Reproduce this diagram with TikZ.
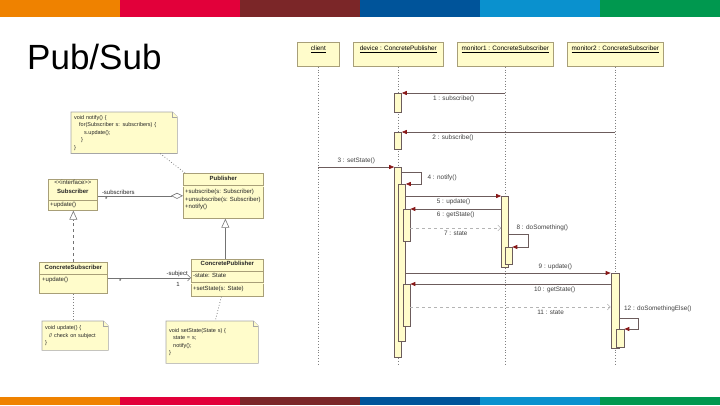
\documentclass[tikz,border=0pt]{standalone}
\usepackage{fontspec}
\setmainfont{Liberation Sans}
\usepackage{tikz}
\definecolor{BarOrange}{HTML}{EF8200}
\definecolor{BarRed}{HTML}{E2003A}
\definecolor{BarWine}{HTML}{7B2628}
\definecolor{BarBlue}{HTML}{00549A}
\definecolor{BarSky}{HTML}{0A91CE}
\definecolor{BarGreen}{HTML}{00984F}
\definecolor{Umlfill}{HTML}{FFFCCB}
\definecolor{Umlline}{HTML}{A89F78}
\definecolor{Msgline}{HTML}{6C5C5C}
\definecolor{Msgtip}{HTML}{881818}
\definecolor{Retline}{HTML}{B4B4B4}
\usetikzlibrary{arrows.meta,backgrounds,positioning}
\newcommand{\umlfont}{\fontsize{6}{7.5}\selectfont}
\newcommand{\notefont}{\fontsize{5.5}{7.5}\selectfont}
\newcommand{\seqfont}{\fontsize{6.4}{7.5}\selectfont}
\tikzstyle{classbox} = [draw=Umlline, fill=Umlfill, line width=0.7pt, inner sep=0pt, anchor=north west]
\tikzstyle{umltext} = [font=\umlfont, inner sep=1pt, text=black!85]
\tikzstyle{umlnote} = [font=\notefont, align=left, inner sep=3pt, anchor=north west, text=black!85]
\tikzstyle{notebox} = [draw=gray!70, fill=Umlfill, line width=0.6pt]
\tikzstyle{notelink} = [gray, dotted, thick]
\tikzstyle{assoc} = [draw=black!55, line width=0.6pt]
\tikzstyle{lifehead} = [
    draw=Umlline,
    fill=Umlfill,
    line width=0.7pt,
    anchor=north west,
    font=\seqfont,
    inner ysep=3pt,
    text height=5pt,
    text depth=13pt
]
\tikzstyle{lifeline} = [gray, dotted, thick]
\tikzstyle{actbar} = [draw=Msgline, fill=Umlfill, line width=0.6pt, inner sep=0pt, minimum width=7pt, anchor=north]
\tikzstyle{msg} = [
    Msgline,
    line width=0.7pt,
    -{Triangle[length=5pt, width=4pt, color=Msgtip]}
]
\tikzstyle{ret} = [
    Retline,
    dashed,
    line width=0.6pt,
    -{Straight Barb[length=3pt, width=6pt]}
]
\tikzstyle{seqlabel} = [font=\seqfont, text=black!75, inner sep=2.5pt]
% note outline with folded corner, drawn behind the text
\newcommand{\umlnotebox}[1]{%
    \begin{scope}[on background layer]
        \filldraw[notebox] (#1.north west) -- ([xshift=-5pt]#1.north east) -- ([yshift=-5pt]#1.north east) -- (#1.south east) -- (#1.south west) -- cycle;
        \draw[notebox] ([xshift=-5pt]#1.north east) |- ([yshift=-5pt]#1.north east);
    \end{scope}}

\begin{document}
\begin{tikzpicture}[x=1pt, y=-1pt]
    \useasboundingbox (0,0) rectangle (720,405);
    % Colour bars
    \foreach \c [count=\i from 0] in {BarOrange,BarRed,BarWine,BarBlue,BarSky,BarGreen} {
        \fill[\c] (\i*120,0) rectangle ++(120,17);
        \fill[\c] (\i*120,397) rectangle ++(120,8);
    }
    % Title
    \node[anchor=base west, inner sep=0pt, font=\fontsize{35}{40}\selectfont] (title) at (27,69) {Pub/Sub};

    % Notes
    \node[umlnote, text width=100pt, minimum height=40pt] (note-notify) at (71,112) {void notify() \{\\\hspace*{5pt}for(Subscriber s: subscribers) \{\\\hspace*{10pt}s.update();\\\hspace*{7pt}\}\\\}};
    \umlnotebox{note-notify}
    \node[umlnote, text width=60pt, minimum height=29pt] (note-update) at (42,321) {void update() \{\\\hspace*{4pt}// check on subject\\\}};
    \umlnotebox{note-update}
    \node[umlnote, text width=86pt, minimum height=42pt] (note-state) at (166,321) {void setState(State s) \{\\\hspace*{4pt}state = s;\\\hspace*{4pt}notify();\\\}};
    \umlnotebox{note-state}

    % Subscriber
    \node[classbox, minimum width=49pt, minimum height=31pt] (subscriber) at (48,179) {};
    \node[umltext, align=center, below=0pt of subscriber.north] (subscriber-head) {<{}<interface>{}>\\[1pt]\textbf{Subscriber}};
    \draw[Umlline, line width=0.7pt] ([yshift=-21pt]subscriber.north west) -- ([yshift=-21pt]subscriber.north east);
    \node[umltext, below right=22pt and 1pt of subscriber.north west] (subscriber-ops) {+update()};
    % Publisher
    \node[classbox, minimum width=80pt, minimum height=45pt] (publisher) at (183,173) {};
    \node[umltext, below=2pt of publisher.north] (publisher-head) {\textbf{Publisher}};
    \draw[Umlline, double=Umlfill, double distance=1pt] ([yshift=-13pt]publisher.north west) -- ([yshift=-13pt]publisher.north east);
    \node[umltext, align=left, below right=15pt and 1pt of publisher.north west] (publisher-ops) {+subscribe(s: Subscriber)\\+unsubscribe(s: Subscriber)\\+notify()};
    % ConcreteSubscriber
    \node[classbox, minimum width=68pt, minimum height=31pt] (concrete-sub) at (39,262) {};
    \node[umltext, below=1.5pt of concrete-sub.north] (concrete-sub-head) {\textbf{ConcreteSubscriber}};
    \draw[Umlline, line width=0.7pt] ([yshift=-12pt]concrete-sub.north west) -- ([yshift=-12pt]concrete-sub.north east);
    \node[umltext, below right=14pt and 2pt of concrete-sub.north west] (concrete-sub-ops) {+update()};
    % ConcretePublisher
    \node[classbox, minimum width=72pt, minimum height=37pt] (concrete-pub) at (191,259) {};
    \node[umltext, below=1pt of concrete-pub.north] (concrete-pub-head) {\textbf{ConcretePublisher}};
    \draw[Umlline, line width=0.7pt] ([yshift=-12pt]concrete-pub.north west) -- ([yshift=-12pt]concrete-pub.north east);
    \node[umltext, below right=13pt and 1pt of concrete-pub.north west] (concrete-pub-attr) {-state: State};
    \draw[Umlline, double=Umlfill, double distance=1pt] ([yshift=-24pt]concrete-pub.north west) -- ([yshift=-24pt]concrete-pub.north east);
    \node[umltext, below right=26pt and 1pt of concrete-pub.north west] (concrete-pub-ops) {+setState(s: State)};

    % Class relations
    \draw[assoc, {Diamond[open, length=12pt, width=6pt]}-] (publisher.west) -- (publisher.west -| subscriber.east)
        node[umltext, at end, above right, xshift=3pt] {-subscribers}
        node[umltext, at end, below right, xshift=6pt] {*};
    \draw[assoc, -{Triangle[open, length=9pt, width=8pt]}] ([xshift=-2pt]concrete-pub.north) -- ([xshift=-2pt]concrete-pub.north |- publisher.south);
    \draw[assoc, dashed, -{Triangle[open, length=9pt, width=8pt]}] (concrete-sub.north) -- (concrete-sub.north |- subscriber.south);
    \draw[assoc, -{Straight Barb[length=3pt, width=6pt]}] (concrete-sub.east) -- (concrete-sub.east -| concrete-pub.west)
        node[umltext, at start, below right, xshift=10pt] {*}
        node[umltext, at end, above left, xshift=-2pt] {-subject}
        node[umltext, at end, below left, xshift=-10pt, yshift=-3pt] {1};
    \draw[notelink] ([xshift=36pt]note-notify.south) -- ([xshift=2pt]publisher.north west);
    \draw[notelink] (concrete-sub.south) -- (concrete-sub.south |- note-update.north);
    \draw[notelink] ([xshift=-6pt]concrete-pub.south) -- ([xshift=3pt]note-state.north);

    % Lifelines
    \node[lifehead, minimum width=42pt] (client) at (297,42) {\underline{client}};
    \node[lifehead, minimum width=90pt] (device) at (353,42) {\underline{device : ConcretePublisher}};
    \node[lifehead, minimum width=96pt] (monitor1) at (457,42) {\underline{monitor1 : ConcreteSubscriber}};
    \node[lifehead, minimum width=96pt] (monitor2) at (567,42) {\underline{monitor2 : ConcreteSubscriber}};
    \coordinate (seq-end) at (0,365);
    \foreach \h in {client,device,monitor1,monitor2}
        \draw[lifeline] (\h.south) -- (\h.south |- seq-end);

    % Activation bars
    \node[actbar, minimum height=19pt] (d1) at (398,93) {};
    \node[actbar, minimum height=17pt] (d2) at (398,132) {};
    \node[actbar, minimum height=190pt] (d3) at (398,167) {};
    \node[actbar, minimum height=157pt] (d4) at (402,184) {};
    \node[actbar, minimum height=32pt] (d5) at (406.5,209) {};
    \node[actbar, minimum height=42pt] (d6) at (406.5,284) {};
    \node[actbar, minimum height=71pt] (a1) at (505,196) {};
    \node[actbar, minimum height=17pt] (a2) at (508.5,247) {};
    \node[actbar, minimum height=75pt, minimum width=8pt] (b1) at (615,273) {};
    \node[actbar, minimum height=18pt, minimum width=8pt] (b2) at (620,329) {};

    % Messages
    \draw[msg] (monitor1 |- d1.north east) -- node[seqlabel, below] {1 : subscribe()} (d1.north east);
    \draw[msg] (monitor2 |- d2.north east) -- node[seqlabel, below, pos=0.76] {2 : subscribe()} (d2.north east);
    \draw[msg] (client |- d3.north west) -- node[seqlabel, above] {3 : setState()} (d3.north west);
    \draw[msg] ([yshift=-5pt]d3.north east) -- ++(20,0) |- node[seqlabel, right, pos=0.25, xshift=3pt] {4 : notify()} (d4.north east);
    \draw[msg] (d4.east |- a1.north west) -- node[seqlabel, below] {5 : update()} (a1.north west);
    \draw[msg] (a1.west |- d5.north east) -- node[seqlabel, below] {6 : getState()} (d5.north east);
    \coordinate (r7) at ([yshift=-19pt]d5.north east);
    \draw[ret] (r7) -- node[seqlabel, below] {7 : state} (r7 -| a1.west);
    \draw[msg] ([yshift=-38pt]a1.north east) -- node[seqlabel, pos=0, anchor=south west, xshift=5pt] {8 : doSomething()} ++(20,0) |- (a2.north east);
    \draw[msg] (d4.east |- b1.north west) -- node[seqlabel, above, pos=0.73] {9 : update()} (b1.north west);
    \draw[msg] (b1.west |- d6.north east) -- node[seqlabel, below, pos=0.28] {10 : getState()} (d6.north east);
    \coordinate (r11) at ([yshift=-23pt]d6.north east);
    \draw[ret] (r11) -- node[seqlabel, below, pos=0.7] {11 : state} (r11 -| b1.west);
    \draw[msg] ([yshift=-45pt]b1.north east) -- node[seqlabel, pos=0, anchor=south west, xshift=2pt, yshift=3pt] {12 : doSomethingElse()} ++(19,0) |- (b2.north east);
\end{tikzpicture}
\end{document}
